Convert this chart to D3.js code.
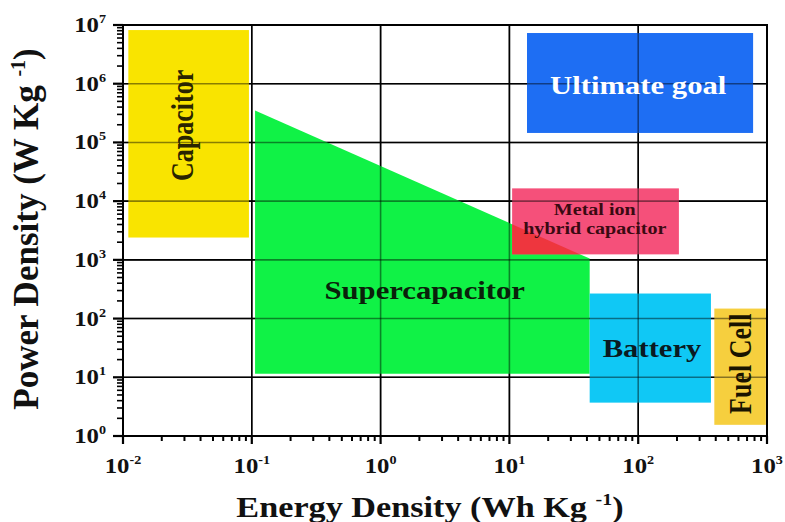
<!DOCTYPE html>
<html><head><meta charset="utf-8">
<script src="https://cdn.jsdelivr.net/npm/d3@7"></script>
<style>body{margin:0;background:#fff}svg{display:block}text{font-family:"Liberation Serif","Times New Roman",serif;font-weight:bold}</style>
</head><body><svg id="c" width="785" height="522"></svg>
<script>
// ---- data ----
const xTicks = [0.01, 0.1, 1, 10, 100, 1000];
const xTickExp = ["-2", "-1", "0", "1", "2", "3"];
const yTicks = [1, 10, 100, 1e3, 1e4, 1e5, 1e6, 1e7];
const yTickExp = ["0", "1", "2", "3", "4", "5", "6", "7"];

// rectangular regions
const rectNames  = ["Capacitor", "Ultimate goal", "Metal ion hybrid capacitor", "Battery", "Fuel Cell"];
const rectXMin   = [0.011, 13.7, 10.5, 42, 390];
const rectXMax   = [0.095, 780, 207, 367, 980];
const rectYMin   = [2400, 1.45e5, 1240, 3.7, 1.55];
const rectYMax   = [8.2e6, 7.3e6, 16500, 267, 148];
const rectColors = ["#F9E400", "#1E6EF3", "#F5507A", "#10C8F5", "#F6CF3E"];

// supercapacitor polygon
const superX = [0.106, 0.106, 42, 42];
const superY = [11.5, 3.5e5, 1050, 11.5];
const superColor = "#10F246";
const overlapColor = "#EE363E";

// labels
const labelText  = ["Capacitor", "Ultimate goal", "Metal ion", "hybrid capacitor", "Battery", "Fuel Cell", "Supercapacitor"];
const labelX     = [0.029, 100, 46, 46, 128, 620, 2.2];
const labelY     = [1.95e5, 9.5e5, 7240, 3440, 31, 17, 300];
const labelRot   = [-90, 0, 0, 0, 0, -90, 0];
const labelSize  = [26, 26, 17, 17, 26, 26, 26];
const labelColor = ["#2a2400", "#ffffff", "#3a0a12", "#3a0a12", "#0a1a22", "#1a1400", "#0a200a"];

// ---- chart ----
const SX = 1.18; // horizontal stretch of the lettering
const svg = d3.select("#c");
const x = d3.scaleLog().domain([0.01, 1000]).range([123, 767]);
const y = d3.scaleLog().domain([1, 1e7]).range([436, 25]);
const [x0, x1] = x.range(), [y0, y1] = y.range();

function grid(g, op) {
  g.selectAll("line.v").data(xTicks).join("line").attr("class","v")
    .attr("x1", d => x(d)).attr("x2", d => x(d)).attr("y1", y0).attr("y2", y1)
    .attr("stroke", "#000").attr("stroke-width", 1.6).attr("stroke-opacity", op);
  g.selectAll("line.h").data(yTicks).join("line").attr("class","h")
    .attr("y1", d => y(d)).attr("y2", d => y(d)).attr("x1", x0).attr("x2", x1)
    .attr("stroke", "#000").attr("stroke-width", 1.6).attr("stroke-opacity", op);
}
grid(svg.append("g"), 1);

const polyPts = superX.map((d, i) => [x(d), y(superY[i])]);
svg.append("path").attr("d", d3.line()(polyPts) + "Z").attr("fill", superColor);

const rects = rectNames.map((n, i) => ({n, i}));
svg.append("g").selectAll("rect").data(rects).join("rect")
  .attr("x", d => x(rectXMin[d.i])).attr("width", d => x(rectXMax[d.i]) - x(rectXMin[d.i]))
  .attr("y", d => y(rectYMax[d.i])).attr("height", d => y(rectYMin[d.i]) - y(rectYMax[d.i]))
  .attr("fill", d => rectColors[d.i]);

const hi = rectNames.indexOf("Metal ion hybrid capacitor");
svg.append("clipPath").attr("id", "hyb").append("rect")
  .attr("x", x(rectXMin[hi])).attr("width", x(rectXMax[hi]) - x(rectXMin[hi]))
  .attr("y", y(rectYMax[hi])).attr("height", y(rectYMin[hi]) - y(rectYMax[hi]));
svg.append("path").attr("d", d3.line()(polyPts) + "Z").attr("fill", overlapColor)
  .attr("clip-path", "url(#hyb)");

grid(svg.append("g"), 0.45);

svg.append("g").selectAll("text").data(labelText).join("text")
  .attr("transform", (d, i) => `translate(${x(labelX[i])},${y(labelY[i])}) scale(${SX},1) rotate(${labelRot[i]})`)
  .attr("text-anchor", "middle").attr("dominant-baseline", "central")
  .attr("font-size", (d, i) => labelSize[i]).attr("fill", (d, i) => labelColor[i])
  .text(d => d);

svg.append("rect").attr("x", x0).attr("y", y1).attr("width", x1 - x0).attr("height", y0 - y1)
  .attr("fill", "none").attr("stroke", "#000").attr("stroke-width", 2);

const xMinor = [];
xTicks.slice(0, -1).forEach(t => { for (let k = 2; k <= 9; k++) xMinor.push(t * k); });
const yMinor = [];
yTicks.slice(0, -1).forEach(t => { for (let k = 2; k <= 9; k++) yMinor.push(t * k); });
const tg = svg.append("g").attr("stroke", "#000");
tg.selectAll("line.xm").data(xMinor).join("line").attr("class","xm")
  .attr("x1", d => x(d)).attr("x2", d => x(d)).attr("y1", y0).attr("y2", y0 + 5).attr("stroke-width", 2);
tg.selectAll("line.xM").data(xTicks).join("line").attr("class","xM")
  .attr("x1", d => x(d)).attr("x2", d => x(d)).attr("y1", y0).attr("y2", y0 + 8).attr("stroke-width", 2.2);
tg.selectAll("line.ym").data(yMinor).join("line").attr("class","ym")
  .attr("y1", d => y(d)).attr("y2", d => y(d)).attr("x1", x0).attr("x2", x0 - 6).attr("stroke-width", 1.6);
tg.selectAll("line.yM").data(yTicks).join("line").attr("class","yM")
  .attr("y1", d => y(d)).attr("y2", d => y(d)).attr("x1", x0).attr("x2", x0 - 10).attr("stroke-width", 2.2);

const xl = svg.append("g").selectAll("text").data(xTicks).join("text")
  .attr("transform", d => `translate(${x(d)},${y0 + 37}) scale(${SX},1)`)
  .attr("text-anchor", "middle").attr("fill", "#111");
xl.append("tspan").attr("font-size", 21).text("10");
xl.append("tspan").attr("font-size", 12).attr("dy", -9).text((d, i) => xTickExp[i]);

const yl = svg.append("g").selectAll("text").data(yTicks).join("text")
  .attr("transform", d => `translate(106,${y(d) + 7}) scale(${SX},1)`)
  .attr("text-anchor", "end").attr("fill", "#111");
yl.append("tspan").attr("font-size", 21).text("10");
yl.append("tspan").attr("font-size", 12).attr("dy", -9).text((d, i) => yTickExp[i]);

const xt = svg.append("text").attr("transform", `translate(430,517) scale(${SX},1)`).attr("text-anchor", "middle")
  .attr("font-size", 29).attr("fill", "#111");
xt.append("tspan").text("Energy Density (Wh Kg ");
xt.append("tspan").attr("font-size", 17).attr("dy", -12).text("-1");
xt.append("tspan").attr("dy", 12).text(")");

const yt = svg.append("text").attr("transform", `translate(38,229) rotate(-90)`).attr("text-anchor", "middle")
  .attr("font-size", 35).attr("fill", "#111");
yt.append("tspan").text("Power Density (W Kg ");
yt.append("tspan").attr("font-size", 20).attr("dy", -13).text("-1");
yt.append("tspan").attr("dy", 13).text(")");
</script></body></html>
